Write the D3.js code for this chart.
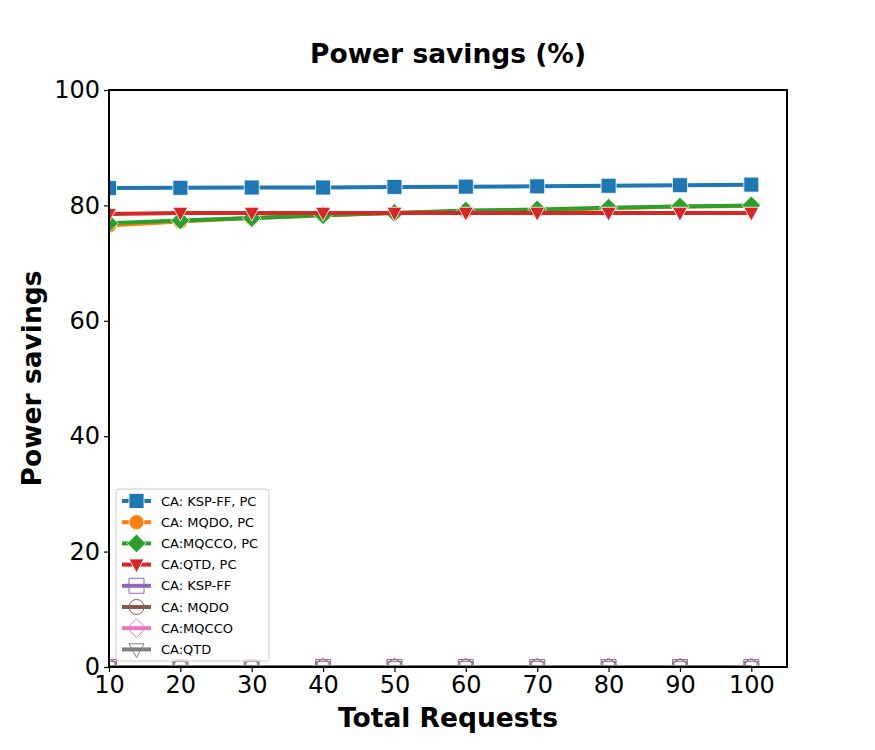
<!DOCTYPE html>
<html><head><meta charset="utf-8">
<script src="https://cdn.jsdelivr.net/npm/d3@7"></script>
<style>body{margin:0;background:#fff;} text{font-family:"DejaVu Sans",sans-serif;}</style>
</head><body>
<svg id="c" width="875" height="750"></svg>
<script>
const xValues = [10,20,30,40,50,60,70,80,90,100];
const kspPC   = [83.0,83.05,83.1,83.1,83.2,83.25,83.3,83.4,83.5,83.6];
const mqdoPC  = [76.5,77.2,77.8,78.3,78.7,79.0,79.2,79.5,79.8,79.9];
const mqccoPC = [76.9,77.4,77.8,78.3,78.7,79.1,79.3,79.6,79.8,80.0];
const qtdPC   = [78.5,78.7,78.7,78.7,78.7,78.7,78.7,78.7,78.7,78.7];
const ksp     = [0,0,0,0,0,0,0,0,0,0];
const mqdo    = [0,0,0,0,0,0,0,0,0,0];
const mqcco   = [0,0,0,0,0,0,0,0,0,0];
const qtd     = [0,0,0,0,0,0,0,0,0,0];
const xTicks = [10,20,30,40,50,60,70,80,90,100];
const yTicks = [0,20,40,60,80,100];

const series = [
  {name:"CA: KSP-FF, PC", vals:kspPC, color:"#1f77b4", marker:"square", fill:true},
  {name:"CA: MQDO, PC", vals:mqdoPC, color:"#ff7f0e", marker:"circle", fill:true},
  {name:"CA:MQCCO, PC", vals:mqccoPC, color:"#2ca02c", marker:"diamond", fill:true},
  {name:"CA:QTD, PC", vals:qtdPC, color:"#d62728", marker:"tri", fill:true},
  {name:"CA: KSP-FF", vals:ksp, color:"#9467bd", marker:"square", fill:false},
  {name:"CA: MQDO", vals:mqdo, color:"#8c564b", marker:"circle", fill:false},
  {name:"CA:MQCCO", vals:mqcco, color:"#e377c2", marker:"diamond", fill:false},
  {name:"CA:QTD", vals:qtd, color:"#7f7f7f", marker:"tri", fill:false}
];

const L=109,R=787,T=90,B=667;
const svg=d3.select("#c");
const x=d3.scaleLinear().domain([10,105]).range([L,R]);
const y=d3.scaleLinear().domain([0,100]).range([B,T]);

svg.append("defs").append("clipPath").attr("id","clip").append("rect")
  .attr("x",L).attr("y",T).attr("width",R-L).attr("height",B-T);

function markerPath(type, s){
  const h=s/2;
  if(type==="square") return `M${-h},${-h}H${h}V${h}H${-h}Z`;
  if(type==="circle") return d3.symbol().type(d3.symbolCircle).size(Math.PI*h*h)();
  if(type==="diamond"){const d=h*1.25;return `M0,${-d}L${d},0L0,${d}L${-d},0Z`;}
  if(type==="tri"){return `M${-h},${-h*0.75}L${h},${-h*0.75}L0,${h*1.1}Z`;}
}

const plot=svg.append("g").attr("clip-path","url(#clip)");
const line=d3.line().x((d,i)=>x(xValues[i])).y(d=>y(d));
series.forEach(s=>{
  const g=plot.append("g");
  g.append("path").attr("d",line(s.vals)).attr("fill","none")
    .attr("stroke",s.color).attr("stroke-width",4);
  g.selectAll("path.m").data(s.vals).enter().append("path").attr("class","m")
    .attr("transform",(d,i)=>`translate(${x(xValues[i])},${y(d)})`)
    .attr("d",markerPath(s.marker,15))
    .attr("fill",s.fill?s.color:"none").attr("stroke",s.fill?"#fff":s.color)
    .attr("stroke-width",s.fill?0.8:1);
});

// axes
const xAxis=d3.axisBottom(x).tickValues(xTicks).tickSize(5).tickPadding(4);
const yAxis=d3.axisLeft(y).tickValues(yTicks).tickSize(5).tickPadding(4);
const gx=svg.append("g").attr("transform",`translate(0,${B})`).call(xAxis);
const gy=svg.append("g").attr("transform",`translate(${L},0)`).call(yAxis);
[gx,gy].forEach(g=>{
  g.select(".domain").remove();
  g.selectAll("line").attr("stroke","#000").attr("stroke-width",1.2);
  g.selectAll("text").attr("font-size",24).attr("fill","#000").attr("font-family","DejaVu Sans");
});
svg.append("rect").attr("x",L).attr("y",T).attr("width",R-L).attr("height",B-T)
  .attr("fill","none").attr("stroke","#000").attr("stroke-width",2);

svg.append("text").attr("x",448).attr("y",63).attr("text-anchor","middle")
  .attr("font-size",26.5).attr("font-weight","bold").text("Power savings (%)");
svg.append("text").attr("x",448).attr("y",727).attr("text-anchor","middle")
  .attr("font-size",26.5).attr("font-weight","bold").text("Total Requests");
svg.append("text").attr("transform",`translate(41,${(T+B)/2}) rotate(-90)`).attr("text-anchor","middle")
  .attr("font-size",26.5).attr("font-weight","bold").text("Power savings");

// legend
const lg=svg.append("g");
lg.append("rect").attr("x",116).attr("y",489).attr("width",153).attr("height",172).attr("rx",3)
  .attr("fill","#fff").attr("fill-opacity",0.8).attr("stroke","#ccc");
series.forEach((s,i)=>{
  const yy=501+i*21.2;
  lg.append("line").attr("x1",122).attr("x2",151).attr("y1",yy).attr("y2",yy)
    .attr("stroke",s.color).attr("stroke-width",4);
  lg.append("path").attr("transform",`translate(136.5,${yy})`).attr("d",markerPath(s.marker,15))
    .attr("fill",s.fill?s.color:"#fff").attr("fill-opacity",s.fill?1:0).attr("stroke",s.fill?"#fff":s.color).attr("stroke-width",s.fill?0.8:1);
  lg.append("text").attr("x",161).attr("y",yy+4.5).attr("font-size",13).text(s.name);
});
</script>
</body></html>
